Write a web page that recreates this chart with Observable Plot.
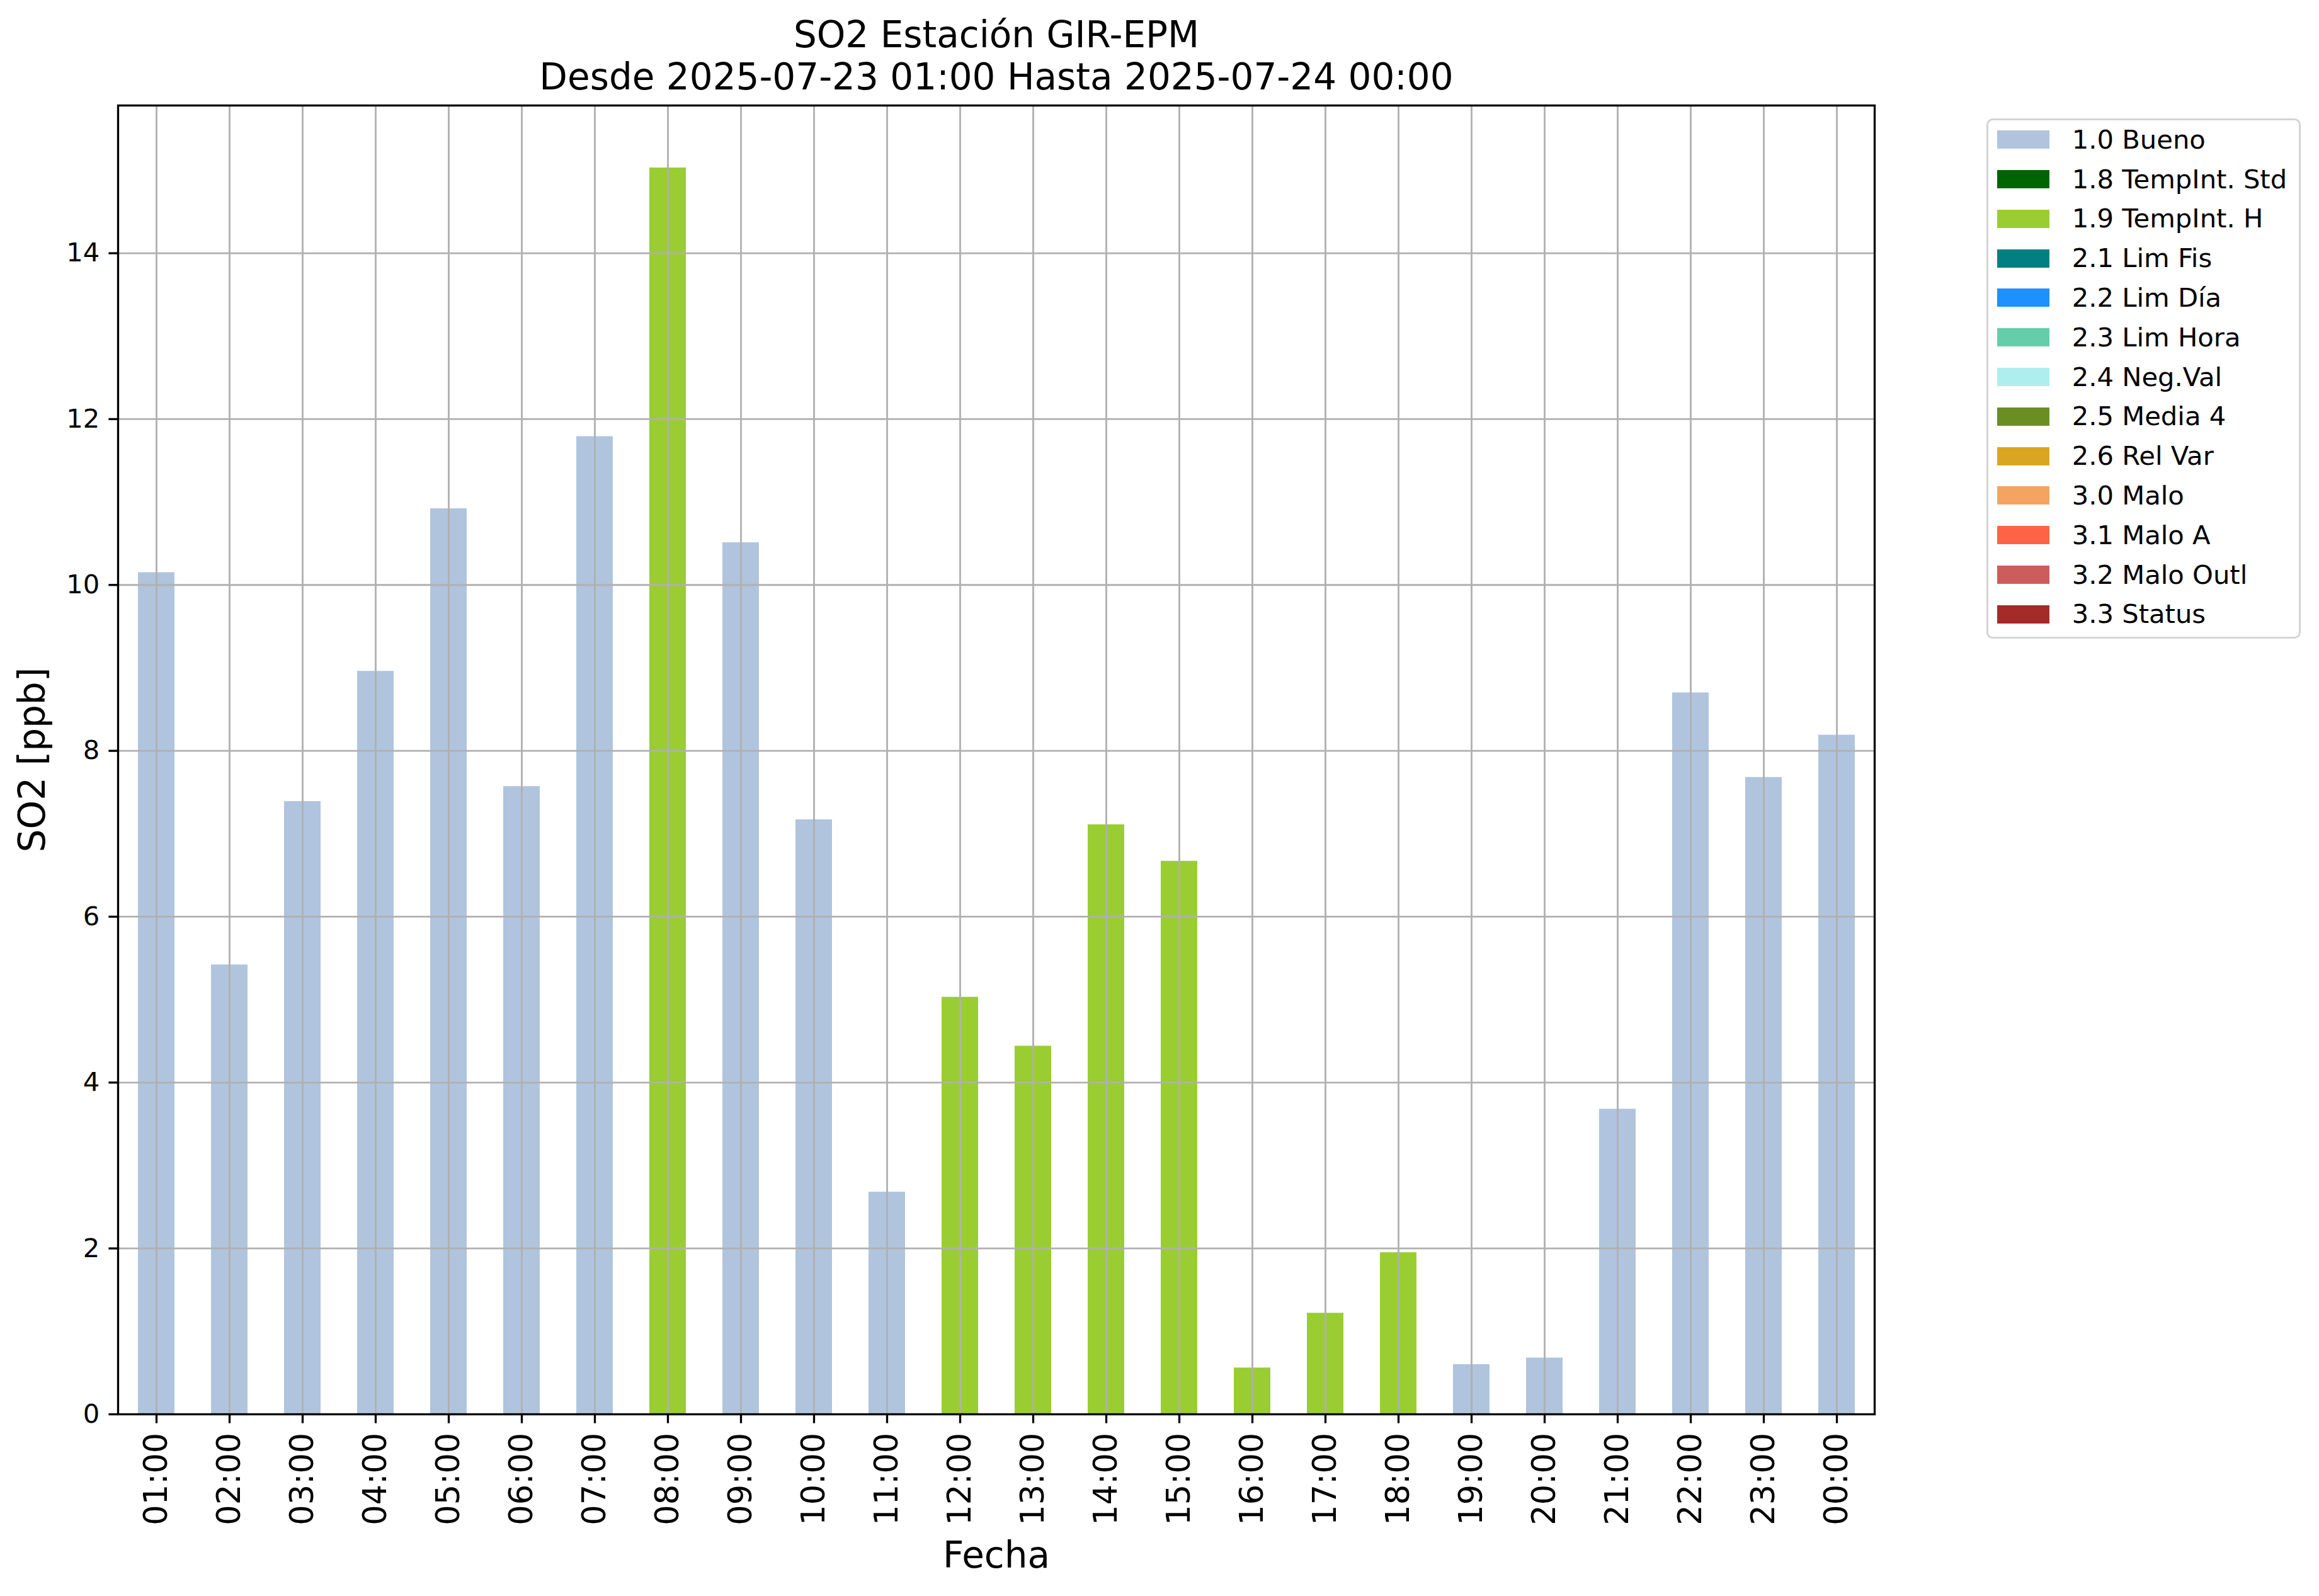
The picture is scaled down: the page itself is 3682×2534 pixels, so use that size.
<!DOCTYPE html>
<html>
<head>
<meta charset="utf-8">
<script src="https://cdn.jsdelivr.net/npm/d3@7"></script>
<script src="https://cdn.jsdelivr.net/npm/@observablehq/plot@0.6"></script>
<style>
  html, body { margin: 0; padding: 0; background: white; }
  #wrap { position: relative; width: 3682px; height: 2534px; overflow: hidden; font-family: "DejaVu Sans", sans-serif; }
  #legend { position: absolute; left: 3154px; top: 188px; width: 499px; height: 826px; box-sizing: border-box;
            border: 3.3px solid #d4d4d4; border-radius: 10px; background: white; }
  .patch { position: absolute; width: 83px; height: 29px; }
  .ltext { position: absolute; font-size: 41.7px; line-height: 41.7px; white-space: nowrap; color: black; }
</style>
</head>
<body>
<div id="wrap"></div>
<script>
// ---- data ----
const hours = ["01:00","02:00","03:00","04:00","05:00","06:00","07:00","08:00","09:00","10:00","11:00","12:00",
               "13:00","14:00","15:00","16:00","17:00","18:00","19:00","20:00","21:00","22:00","23:00","00:00"];
const so2 = [10.15, 5.42, 7.39, 8.96, 10.92, 7.57, 11.79, 15.03, 10.51, 7.17, 2.68, 5.03,
             4.44, 7.11, 6.67, 0.56, 1.22, 1.95, 0.60, 0.68, 3.68, 8.70, 7.68, 8.19];
const flags = ["1.0 Bueno","1.0 Bueno","1.0 Bueno","1.0 Bueno","1.0 Bueno","1.0 Bueno","1.0 Bueno","1.9 TempInt. H",
               "1.0 Bueno","1.0 Bueno","1.0 Bueno","1.9 TempInt. H","1.9 TempInt. H","1.9 TempInt. H","1.9 TempInt. H",
               "1.9 TempInt. H","1.9 TempInt. H","1.9 TempInt. H","1.0 Bueno","1.0 Bueno","1.0 Bueno","1.0 Bueno",
               "1.0 Bueno","1.0 Bueno"];
const legendLabels = ["1.0 Bueno","1.8 TempInt. Std","1.9 TempInt. H","2.1 Lim Fis","2.2 Lim Día","2.3 Lim Hora",
                      "2.4 Neg.Val","2.5 Media 4","2.6 Rel Var","3.0 Malo","3.1 Malo A","3.2 Malo Outl","3.3 Status"];
const legendColors = ["#b0c4de","#006400","#9acd32","#008080","#1e90ff","#66cdaa","#afeeee","#6b8e23",
                      "#daa520","#f4a460","#ff6347","#cd5c5c","#a52a2a"];
const yTicks = [0, 2, 4, 6, 8, 10, 12, 14];
const titleLines = ["SO2 Estación GIR-EPM", "Desde 2025-07-23 01:00 Hasta 2025-07-24 00:00"];
const xLabel = "Fecha";
const yLabel = "SO2 [ppb]";

const rows = hours.map((h, i) => ({hour: h, value: so2[i], flag: flags[i]}));
const yMax = d3.max(so2) * 1.05;

const lw = 3.3;
const chart = Plot.plot({
  width: 3682,
  height: 2534,
  marginTop: 167,
  marginRight: 706,
  marginBottom: 289,
  marginLeft: 187,
  style: {fontFamily: "DejaVu Sans", background: "white", color: "black"},
  x: {type: "band", domain: hours, paddingInner: 0.5, paddingOuter: 0.25, axis: null},
  y: {domain: [0, yMax], axis: null},
  color: {domain: legendLabels, range: legendColors},
  marks: [
    Plot.barY(rows, {x: "hour", y: "value", fill: "flag"}),
    Plot.gridX(hours, {stroke: "#b0b0b0", strokeOpacity: 1, strokeWidth: 2.8}),
    Plot.gridY(yTicks, {stroke: "#b0b0b0", strokeOpacity: 1, strokeWidth: 2.8}),
    Plot.frame({stroke: "black", strokeWidth: lw}),
    Plot.axisY({ticks: yTicks, tickSize: 14.6, tickPadding: 14.6, fontSize: 41.7, strokeWidth: lw,
                tickFormat: d => String(d), label: null}),
    Plot.axisX({tickSize: 14.6, tickPadding: 14.6, tickRotate: -90, fontSize: 51, strokeWidth: lw, label: null}),
    Plot.text([yLabel], {text: d => d, frameAnchor: "left", textAnchor: "middle", dx: -135, rotate: -90, fontSize: 58, lineAnchor: "middle"}),
    Plot.text([xLabel], {text: d => d, frameAnchor: "bottom", dy: 225, fontSize: 58, lineAnchor: "middle"}),
    Plot.text([titleLines[0]], {text: d => d, frameAnchor: "top", dy: -111, fontSize: 58, lineAnchor: "middle"}),
    Plot.text([titleLines[1]], {text: d => d, frameAnchor: "top", dy: -44, fontSize: 58, lineAnchor: "middle"})
  ]
});

const wrap = document.getElementById("wrap");
wrap.appendChild(chart);

// legend
const legend = d3.select(wrap).append("div").attr("id", "legend");
legendLabels.forEach((lab, i) => {
  const cy = 30.7 + i * 62.8;
  legend.append("div").attr("class", "patch")
    .style("left", "13.7px").style("top", (cy - 14.5) + "px").style("background", legendColors[i]);
  legend.append("div").attr("class", "ltext")
    .style("left", "132.7px").style("top", (cy - 20.85) + "px").text(lab);
});
</script>
</body>
</html>
